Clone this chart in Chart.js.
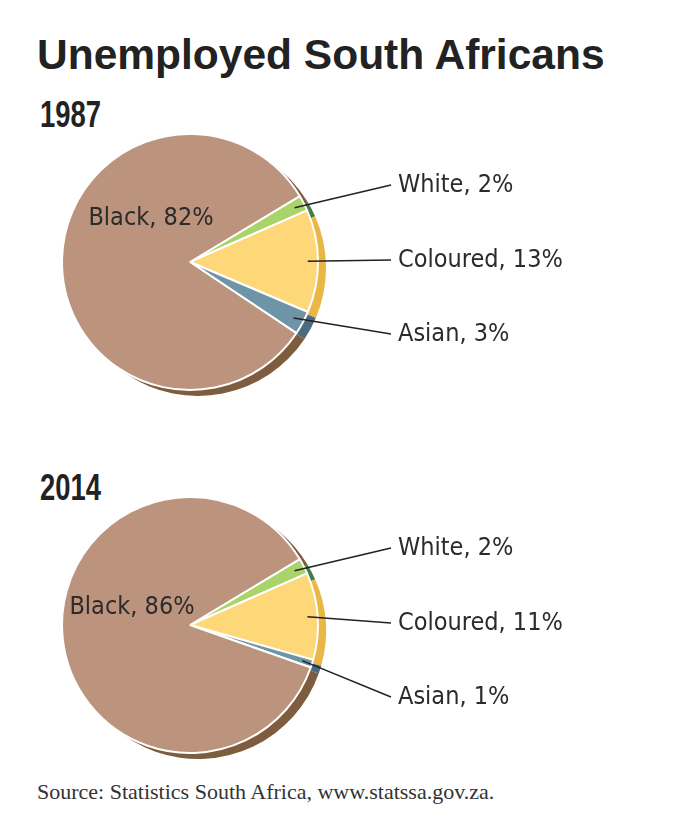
<!DOCTYPE html>
<html>
<head>
<meta charset="utf-8">
<script src="https://cdn.jsdelivr.net/npm/chart.js@4.4.1/dist/chart.umd.min.js"></script>
<style>
  body { margin: 0; background: #fff; width: 692px; height: 824px; position: relative; overflow: hidden;
         font-family: "Liberation Sans", Arial, sans-serif; color: #222; }
  .t { position: absolute; white-space: nowrap; line-height: 1; }
  #title { left: 37px; top: 34px; font-size: 42.5px; font-weight: bold; }
  .year { font-size: 37px; font-weight: bold; transform: scaleX(0.74); transform-origin: 0 0; }
  #src { left: 37px; top: 781px; font-family: "Liberation Serif", serif; font-size: 22px; color: #333; }
  canvas { position: absolute; left: 0; }
</style>
</head>
<body>
<div class="t" id="title">Unemployed South Africans</div>
<div class="t year" style="left:40px;top:96px">1987</div>
<canvas id="pie1987" width="692" height="300" style="top:112px"></canvas>
<div class="t year" style="left:40px;top:469px">2014</div>
<canvas id="pie2014" width="692" height="300" style="top:475px"></canvas>
<div class="t" id="src">Source: Statistics South Africa, www.statssa.gov.za.</div>

<script>
// Unemployed South Africans by population group (%)
const categories = ['White', 'Coloured', 'Asian', 'Black'];
const share1987 = [2, 13, 3, 82];
const share2014 = [2, 11, 1, 86];

const sliceColors = ['#a8d46a', '#fdd778', '#6e94a8', '#bc937d'];
const shadowColors = ['#3f7d4c', '#eab646', '#4b6b80', '#7d5d3d'];

// draws the offset "3D" rim under each slice
const pieShadow = {
  id: 'pieShadow',
  beforeDatasetsDraw(chart, args, opts) {
    const ctx = chart.ctx;
    const meta = chart.getDatasetMeta(0);
    ctx.save();
    meta.data.forEach((arc, i) => {
      const p = arc.getProps(['x', 'y', 'startAngle', 'endAngle', 'outerRadius']);
      const cx = p.x + opts.dx, cy = p.y + opts.dy;
      ctx.beginPath();
      ctx.moveTo(cx, cy);
      ctx.arc(cx, cy, p.outerRadius, p.startAngle, p.endAngle);
      ctx.closePath();
      ctx.fillStyle = shadowColors[i];
      ctx.fill();
    });
    ctx.restore();
  }
};

// leader lines + category labels
const pieLabels = {
  id: 'pieLabels',
  afterDatasetsDraw(chart, args, opts) {
    const ctx = chart.ctx;
    const meta = chart.getDatasetMeta(0);
    const values = chart.data.datasets[0].data;
    ctx.save();
    ctx.font = '25px "DejaVu Sans Condensed", sans-serif';
    ctx.fillStyle = '#2b2b2b';
    ctx.strokeStyle = '#222';
    ctx.lineWidth = 1.5;
    ctx.textBaseline = 'middle';
    meta.data.forEach((arc, i) => {
      const p = arc.getProps(['x', 'y', 'startAngle', 'endAngle', 'outerRadius']);
      const text = categories[i] + ', ' + values[i] + '%';
      if (categories[i] === 'Black') {
        ctx.textAlign = 'center';
        ctx.fillText(text, p.x + opts.black[0], p.y + opts.black[1]);
        return;
      }
      const mid = (p.startAngle + p.endAngle) / 2;
      const r = p.outerRadius * 0.92;
      const ly = p.y + opts.rows[i];
      ctx.beginPath();
      ctx.moveTo(p.x + Math.cos(mid) * r, p.y + Math.sin(mid) * r);
      ctx.lineTo(p.x + 201, ly);
      ctx.stroke();
      ctx.textAlign = 'left';
      ctx.fillText(text, p.x + 208, ly);
    });
    ctx.restore();
  }
};

function makePie(id, values, black) {
  new Chart(document.getElementById(id), {
    type: 'pie',
    data: {
      labels: categories,
      datasets: [{
        data: values,
        backgroundColor: sliceColors,
        borderColor: '#ffffff',
        borderWidth: 2,
        hoverOffset: 0,
        radius: 128
      }]
    },
    options: {
      responsive: false,
      animation: false,
      rotation: 59,
      events: [],
      layout: { padding: { left: 0, right: 312, top: 0, bottom: 0 } },
      plugins: {
        legend: { display: false },
        tooltip: { enabled: false },
        pieShadow: { dx: 8, dy: 6 },
        pieLabels: { rows: [-77, -2, 72], black: black }
      }
    },
    plugins: [pieShadow, pieLabels]
  });
}

makePie('pie1987', share1987, [-39, -44]);
makePie('pie2014', share2014, [-58, -18]);
</script>
</body>
</html>
